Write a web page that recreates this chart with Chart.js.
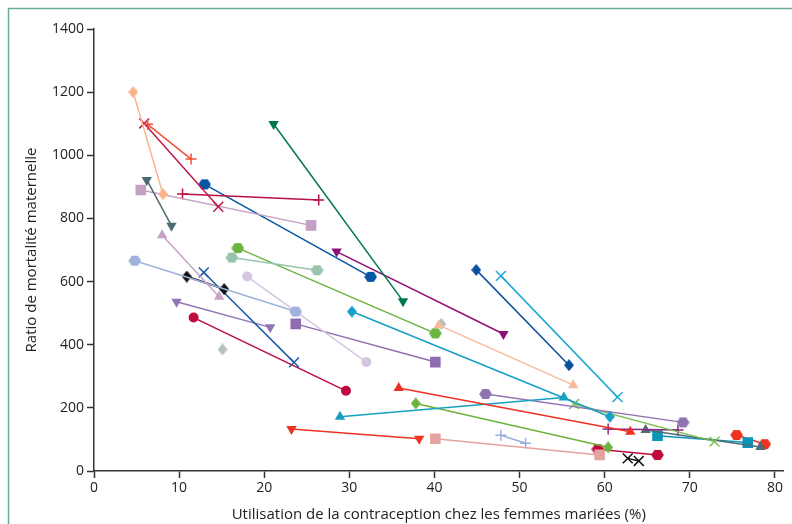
<!DOCTYPE html>
<html>
<head>
<meta charset="utf-8">
<script src="https://cdn.jsdelivr.net/npm/chart.js@4"></script>
<style>
html,body{margin:0;padding:0;background:#fff;}
#wrap{width:792px;height:524px;position:relative;}
</style>
</head>
<body>
<div id="wrap"><canvas id="c" width="792" height="524"></canvas></div>
<script>
// Contraceptive use (%) per series (start, end)
const xValues = [
  [4.6, 8.1], [6.3, 11.4], [5.9, 14.6], [6.2, 9.1], [5.5, 25.5],
  [10.4, 26.4], [13.0, 32.5], [21.1, 36.3], [8.0, 14.7], [4.8, 23.7],
  [10.9, 15.3], [12.9, 23.5], [16.2, 26.2], [16.9, 40.1], [18.0, 32.0],
  [9.7, 20.7], [11.7, 29.6], [15.1], [23.7, 40.1], [28.5, 48.1],
  [30.3, 60.6], [40.5, 56.3], [40.8], [44.9, 55.8], [47.8, 61.5],
  [35.8, 63.0], [28.9, 55.2], [37.8, 60.4], [23.2, 38.2], [40.1, 59.4],
  [47.8, 50.7], [46.0, 69.2], [56.4, 72.9], [60.4, 68.6], [64.8, 78.3],
  [66.2, 76.8], [75.5, 78.8], [59.2, 66.2], [62.7, 64.0]
];
// Maternal mortality ratio per series (start, end)
const yValues = [
  [1200, 877], [1098, 988], [1101, 837], [922, 777], [890, 778],
  [877, 858], [908, 615], [1099, 538], [747, 552], [666, 505],
  [616, 576], [629, 344], [676, 636], [706, 436], [616, 345],
  [536, 455], [486, 254], [385], [466, 345], [695, 434],
  [505, 172], [462, 272], [466], [637, 335], [618, 234],
  [263, 124], [172, 233], [214, 75], [133, 102], [102, 51],
  [113, 88], [244, 154], [212, 93], [133, 130], [130, 76],
  [112, 90], [114, 85], [69, 51], [40, 32]
];
const xTicks = [0, 10, 20, 30, 40, 50, 60, 70, 80];
const yTicks = [0, 200, 400, 600, 800, 1000, 1200, 1400];

// styles (kept apart from the data)
const markers = ['diamond','plus','x','down','square','plus','hex','down','up','hex',
  'diamond','x','hex','hex','circle','down','circle','diamond','square','down',
  'diamond','up','diamond','diamond','x','up','up','diamond','down','square',
  'plus','hex','x','plus','up','square','hex','hex','x'];
const colors = ['#f9b48a','#f0503a','#c0184a','#4d6a72','#c5a0c5','#b8103f','#0556a5','#00774a','#c9a0c9','#9fb2dd',
  '#111111','#1a5ca8','#98c4ac','#6cb33f','#d5c6e2','#9275b5','#be0a3c','#b3bfc2','#8f6cb1','#8b1273',
  '#16a0c6','#f9b99a','#b5bcc0','#0a4f9c','#1fa8d2','#eb3223','#15a0c2','#6ab43c','#ec3423','#e3a3a0',
  '#9aaede','#9073b3','#7cc052','#8e2484','#4f6c75','#0a96b8','#ec3322','#bc0a3b','#111111'];

function makeHex(color){
  const c = document.createElement('canvas');
  c.width = 13; c.height = 12;
  const g = c.getContext('2d');
  g.fillStyle = color;
  g.beginPath();
  const cx = 6.5, cy = 6, r = 6.3;
  for (let i = 0; i < 6; i++) {
    const a = Math.PI / 3 * i;
    const px = cx + r * Math.cos(a), py = cy + r * 0.92 * Math.sin(a);
    if (i === 0) g.moveTo(px, py); else g.lineTo(px, py);
  }
  g.closePath(); g.fill();
  return c;
}
function makeDiamond(color){
  const c = document.createElement('canvas');
  c.width = 10; c.height = 12;
  const g = c.getContext('2d');
  g.fillStyle = color;
  g.beginPath();
  g.moveTo(5, 0); g.lineTo(10, 6); g.lineTo(5, 12); g.lineTo(0, 6);
  g.closePath(); g.fill();
  return c;
}

function pointOpts(m, col){
  switch (m) {
    case 'hex': return {pointStyle: makeHex(col), pointRadius: 6, pointRotation: 0, pointBorderWidth: 0};
    case 'diamond': return {pointStyle: makeDiamond(col), pointRadius: 6, pointRotation: 0, pointBorderWidth: 0};
    case 'plus': return {pointStyle: 'cross', pointRadius: 5.5, pointRotation: 0, pointBorderWidth: 1.5};
    case 'x': return {pointStyle: 'crossRot', pointRadius: 7, pointRotation: 0, pointBorderWidth: 1.5};
    case 'up': return {pointStyle: 'triangle', pointRadius: 6, pointRotation: 0, pointBorderWidth: 0};
    case 'down': return {pointStyle: 'triangle', pointRadius: 6, pointRotation: 180, pointBorderWidth: 0};
    case 'square': return {pointStyle: 'rect', pointRadius: 7.5, pointRotation: 0, pointBorderWidth: 0};
    default: return {pointStyle: 'circle', pointRadius: 5, pointRotation: 0, pointBorderWidth: 0};
  }
}

const datasets = xValues.map((xs, i) => {
  const col = colors[i];
  const p = pointOpts(markers[i], col);
  return Object.assign({
    data: xs.map((x, j) => ({x: x, y: yValues[i][j]})),
    showLine: xs.length > 1,
    borderColor: col,
    backgroundColor: col,
    pointBackgroundColor: col,
    pointBorderColor: col,
    borderWidth: (i === 10) ? 2 : 1.5,
    tension: 0
  }, p);
});

const frame = {
  id: 'frame',
  beforeDraw(chart){
    const g = chart.ctx;
    g.save();
    g.fillStyle = '#fff';
    g.fillRect(0, 0, chart.width, chart.height);
    g.strokeStyle = '#6aae8e';
    g.lineWidth = 1.5;
    g.beginPath();
    g.moveTo(8.5, chart.height);
    g.lineTo(8.5, 8.5);
    g.lineTo(chart.width, 8.5);
    g.stroke();
    g.restore();
  }
};

const fontFam = '"Open Sans", "Noto Sans", sans-serif';

new Chart(document.getElementById('c'), {
  type: 'scatter',
  data: {datasets},
  plugins: [frame],
  options: {
    responsive: false,
    animation: false,
    layout: {padding: {left: 0, right: 6.5, top: 29, bottom: 0}},
    plugins: {legend: {display: false}, tooltip: {enabled: false}},
    scales: {
      x: {
        type: 'linear', min: 0, max: 81,
        afterBuildTicks(scale){ scale.ticks = xTicks.map(v => ({value: v})); },
        afterFit(scale){ scale.height = 53; },
        border: {display: true, color: '#333', width: 1.5},
        grid: {display: true, drawOnChartArea: false, drawTicks: true, tickLength: 7, tickColor: '#333', tickWidth: 1.5},
        ticks: {color: '#222', padding: 2, font: {family: fontFam, size: 14}, maxRotation: 0,
          callback: v => String(v)},
        title: {display: true, text: 'Utilisation de la contraception chez les femmes mariées (%)', color: '#222',
          font: {family: fontFam, size: 15}, padding: {top: 5.5, bottom: 0}}
      },
      y: {
        type: 'linear', min: 0, max: 1400,
        afterBuildTicks(scale){ scale.ticks = yTicks.map(v => ({value: v})); },
        afterFit(scale){ scale.width = 94; },
        border: {display: true, color: '#333', width: 1.5},
        grid: {display: true, drawOnChartArea: false, drawTicks: true, tickLength: 7, tickColor: '#333', tickWidth: 1.5},
        ticks: {color: '#222', padding: 3, font: {family: fontFam, size: 14},
          callback: v => String(v)},
        title: {display: true, text: 'Ratio de mortalité maternelle', color: '#222',
          font: {family: fontFam, size: 15}, padding: {top: 23, bottom: 0}}
      }
    }
  }
});
</script>
</body>
</html>
